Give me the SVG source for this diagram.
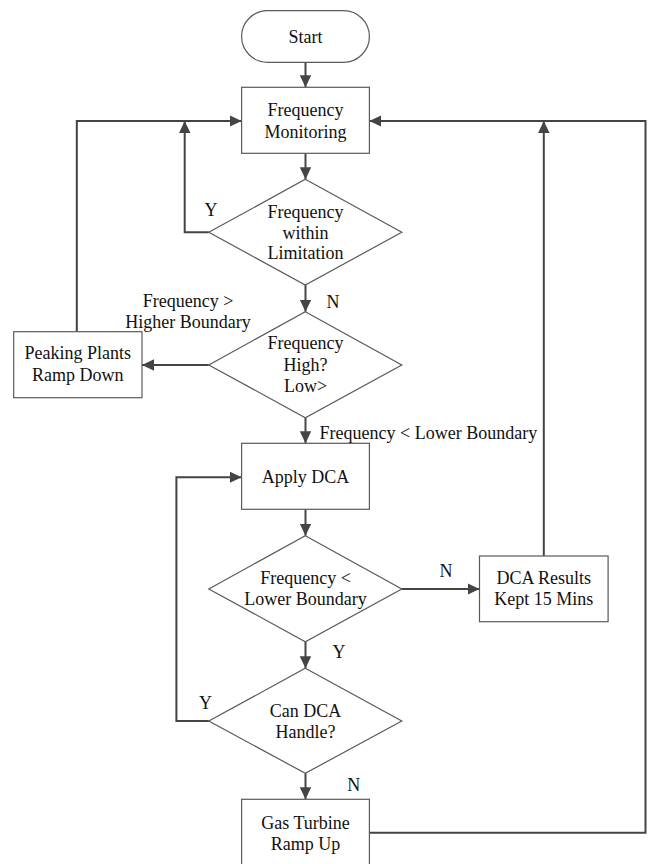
<svg xmlns="http://www.w3.org/2000/svg" width="648" height="864" viewBox="0 0 648 864">
<defs>
<style>
.shape{fill:#ffffff;stroke:#5a5a5a;stroke-width:1.2}
.conn{fill:none;stroke:#444444;stroke-width:2}
text{font-family:"Liberation Serif","Times New Roman",serif;font-size:18px;fill:#111111}
.c{text-anchor:middle}
</style>
<marker id="arr" markerUnits="userSpaceOnUse" markerWidth="13" markerHeight="12" refX="12" refY="5.75" orient="auto">
<path d="M0,0 L12,5.75 L0,11.5 z" fill="#444444"/>
</marker>
</defs>
<rect width="648" height="864" fill="#ffffff"/>
<g id="connectors">
<line class="conn" x1="305.5" y1="62.3" x2="305.5" y2="87.3" marker-end="url(#arr)"/>
<line class="conn" x1="305.5" y1="153.3" x2="305.5" y2="179.3" marker-end="url(#arr)"/>
<polyline class="conn" points="208.8,232.3 184.7,232.3 184.7,121" marker-end="url(#arr)"/>
<line class="conn" x1="305.5" y1="285" x2="305.5" y2="311.7" marker-end="url(#arr)"/>
<line class="conn" x1="208.8" y1="365" x2="142" y2="365" marker-end="url(#arr)"/>
<polyline class="conn" points="76.8,331.7 76.8,121 241.6,121" marker-end="url(#arr)"/>
<line class="conn" x1="305.5" y1="417.7" x2="305.5" y2="443.3" marker-end="url(#arr)"/>
<line class="conn" x1="305.5" y1="509.3" x2="305.5" y2="535.7" marker-end="url(#arr)"/>
<line class="conn" x1="401.8" y1="589" x2="479.5" y2="589" marker-end="url(#arr)"/>
<polyline class="conn" points="543.8,556 543.8,121" marker-end="url(#arr)"/>
<line class="conn" x1="305.5" y1="641.7" x2="305.5" y2="668.3" marker-end="url(#arr)"/>
<polyline class="conn" points="208.8,721 176.4,721 176.4,477.3 241.6,477.3" marker-end="url(#arr)"/>
<line class="conn" x1="305.5" y1="773.3" x2="305.5" y2="799.3" marker-end="url(#arr)"/>
<polyline class="conn" points="369.4,832.7 645.5,832.7 645.5,121 369.4,121" marker-end="url(#arr)"/>
</g>
<g id="labels">
<text x="211" y="216" class="c">Y</text>
<text x="333" y="307.7" class="c">N</text>
<text x="188" y="306.7" class="c">Frequency &gt;</text>
<text x="188" y="328.3" class="c">Higher Boundary</text>
<text x="319.6" y="439.3">Frequency &lt; Lower Boundary</text>
<text x="446" y="577" class="c">N</text>
<text x="339" y="657.7" class="c">Y</text>
<text x="205.5" y="709.3" class="c">Y</text>
<text x="353.7" y="791" class="c">N</text>
</g>
<g id="start">
<rect class="shape" x="241.6" y="10.7" width="127.8" height="51.6" rx="25.8" ry="25.8"/>
<text x="305.5" y="42.5" class="c">Start</text>
</g>
<g id="freq-monitoring">
<rect class="shape" x="241.6" y="87.3" width="127.8" height="66"/>
<text x="305.5" y="116" class="c">Frequency</text>
<text x="305.5" y="137.5" class="c">Monitoring</text>
</g>
<g id="freq-within">
<polygon class="shape" points="305.3,179.3 401.8,232.3 305.3,285 208.8,232.3"/>
<text x="305.5" y="217.7" class="c">Frequency</text>
<text x="305.5" y="238.7" class="c">within</text>
<text x="305.5" y="259" class="c">Limitation</text>
</g>
<g id="freq-high-low">
<polygon class="shape" points="305.3,311.7 401.8,365 305.3,417.7 208.8,365"/>
<text x="305.5" y="349.3" class="c">Frequency</text>
<text x="305.5" y="371" class="c">High?</text>
<text x="305.5" y="392" class="c">Low&gt;</text>
</g>
<g id="peaking-plants">
<rect class="shape" x="13.7" y="331.7" width="128.3" height="66"/>
<text x="77.8" y="359.3" class="c">Peaking Plants</text>
<text x="77.8" y="381" class="c">Ramp Down</text>
</g>
<g id="apply-dca">
<rect class="shape" x="241.6" y="443.3" width="127.8" height="66"/>
<text x="305.5" y="482.7" class="c">Apply DCA</text>
</g>
<g id="freq-lower">
<polygon class="shape" points="305.3,535.7 401.8,589 305.3,641.7 208.8,589"/>
<text x="305.5" y="584.3" class="c">Frequency &lt;</text>
<text x="305.5" y="605.3" class="c">Lower Boundary</text>
</g>
<g id="dca-results">
<rect class="shape" x="479.5" y="556" width="128.6" height="65.7"/>
<text x="543.8" y="583.7" class="c">DCA Results</text>
<text x="543.8" y="605.3" class="c">Kept 15 Mins</text>
</g>
<g id="can-dca">
<polygon class="shape" points="305.3,668.3 401.8,721 305.3,773.3 208.8,721"/>
<text x="305.5" y="716.7" class="c">Can DCA</text>
<text x="305.5" y="737.7" class="c">Handle?</text>
</g>
<g id="gas-turbine">
<rect class="shape" x="241.6" y="799.3" width="127.8" height="66"/>
<text x="305.5" y="828.7" class="c">Gas Turbine</text>
<text x="305.5" y="850" class="c">Ramp Up</text>
</g>
</svg>
